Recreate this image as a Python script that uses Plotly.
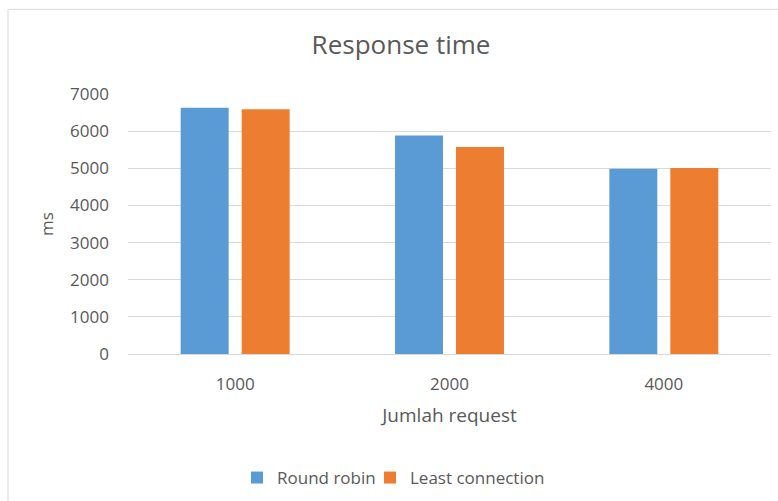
import plotly.graph_objects as go

# Response time per load level for the two balancing strategies
requests = ["1000", "2000", "4000"]
round_robin = [6630, 5880, 4990]
least_connection = [6590, 5570, 5010]
y_ticks = [0, 1000, 2000, 3000, 4000, 5000, 6000, 7000]

TEXT = "#595959"
GRID = "#d9d9d9"
FONT = "Open Sans"

fig = go.Figure()
fig.add_trace(go.Bar(name="Round robin", x=requests, y=round_robin, legend="legend",
                     showlegend=True, marker=dict(color="#5B9BD5", line=dict(width=0))))
fig.add_trace(go.Bar(name="Least connection", x=requests, y=least_connection, legend="legend2",
                     showlegend=True, marker=dict(color="#ED7D31", line=dict(width=0))))

# plot area spans x 128..771 px, y 94..355 px
L, R, T, B = 128, 7, 94, 146
W, H = 778, 501
pw, ph = W - L - R, H - T - B

def px_x(x):
    return (x - L) / pw

def px_y(y):
    return (H - B - y) / ph

legend_style = dict(orientation="h", xanchor="left", yanchor="middle", y=px_y(478),
                    font=dict(size=17, color=TEXT), bgcolor="rgba(0,0,0,0)", visible=True)

fig.update_layout(
    width=W, height=H,
    margin=dict(l=L, r=R, t=T, b=B),
    paper_bgcolor="white", plot_bgcolor="white",
    font=dict(family=FONT, color=TEXT, size=17),
    showlegend=True,
    barmode="group", bargap=0.431, bargroupgap=0.213,
    title=dict(text="Response time", font=dict(family=FONT, size=26, color=TEXT),
               x=401 / W, xanchor="center", y=1 - 45 / H, yanchor="middle"),
    xaxis=dict(showgrid=False, showline=False, zeroline=False, ticks="",
               ticklabelstandoff=18, tickfont=dict(size=17, color=TEXT),
               title=dict(text="Jumlah request", font=dict(size=19, color=TEXT), standoff=14)),
    yaxis=dict(range=[0, 7000], tickvals=y_ticks, showgrid=True, gridcolor=GRID, gridwidth=1,
               zeroline=True, zerolinecolor=GRID, zerolinewidth=1, showline=False, ticks="",
               ticklabelstandoff=18, tickfont=dict(size=17, color=TEXT),
               title=dict(text="ms", font=dict(size=17, color=TEXT), standoff=12)),
    legend=dict(x=px_x(237), **legend_style),
    legend2=dict(x=px_x(370), **legend_style),
    shapes=[dict(type="rect", xref="paper", yref="paper",
                 x0=px_x(8), x1=px_x(800), y0=px_y(520), y1=px_y(9),
                 line=dict(color=GRID, width=1), fillcolor="rgba(0,0,0,0)", layer="below")],
)

fig.write_html("out.html")
